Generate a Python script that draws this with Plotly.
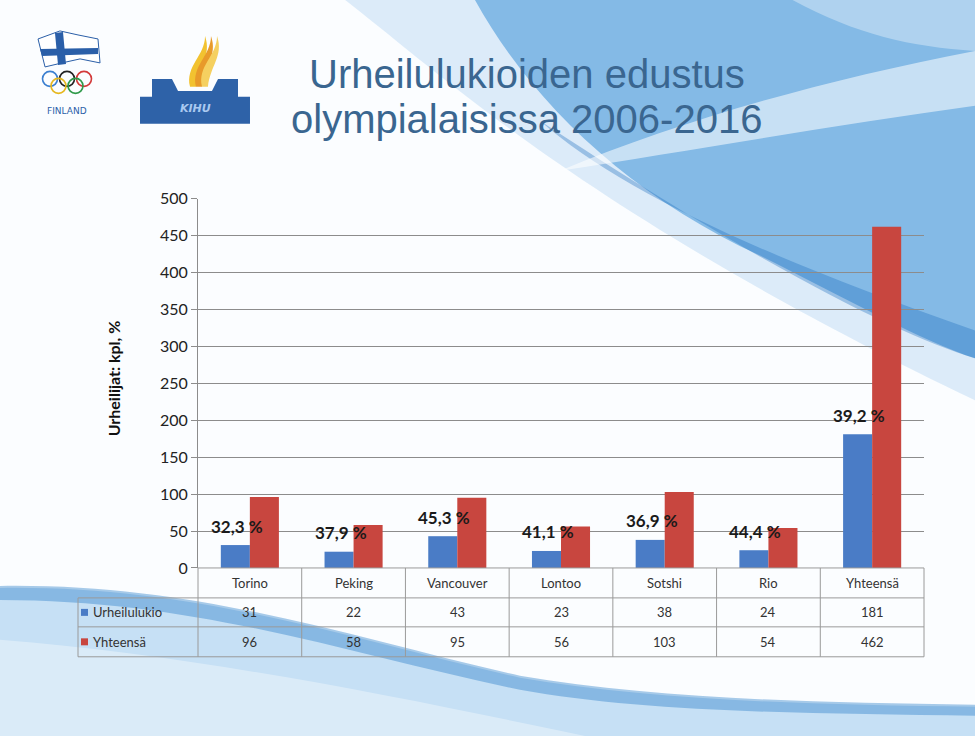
import plotly.graph_objects as go

# ---------------- data ----------------
categories = ["Torino", "Peking", "Vancouver", "Lontoo", "Sotshi", "Rio", "Yhteensä"]
urheilulukio = [31, 22, 43, 23, 38, 24, 181]
yhteensa = [96, 58, 95, 56, 103, 54, 462]
pct_labels = ["32,3 %", "37,9 %", "45,3 %", "41,1 %", "36,9 %", "44,4 %", "39,2 %"]
series_names = ["Urheilulukio", "Yhteensä"]
y_ticks = [0, 50, 100, 150, 200, 250, 300, 350, 400, 450, 500]
title_lines = ["Urheilulukioiden edustus", "olympialaisissa 2006-2016"]

W, H = 975, 736
BLUE = "#4a7cc6"
RED = "#c8463f"
FONT = "Lato"

# vertical calibration of the photographed page (image_y = VA + VB * page_y)
VA, VB = 9.0, 0.976


def px(x):
    return x / W


def py(y):
    return 1 - ((y - VA) / VB) / H


def path(points, close=True):
    s = "M " + " L ".join(f"{px(x):.4f},{py(y):.4f}" for x, y in points)
    return s + (" Z" if close else "")


def cpath(cmds):
    out = []
    for c, pts in cmds:
        out.append(c + " " + " ".join(f"{px(x):.4f},{py(y):.4f}" for x, y in pts))
    return " ".join(out) + " Z"


def note(x, y, text, font, **kw):
    d = dict(x=px(x), y=py(y), xref="paper", yref="paper", text=text, showarrow=False,
             xanchor="center", yanchor="middle", font=font)
    d.update(kw)
    return d


def bg(p, color):
    return dict(type="path", xref="paper", yref="paper", layer="below", path=p,
                fillcolor=color, line=dict(width=0))


# plot area in pixels (reference image coordinates)
X0, X1 = 198, 924
Y0, Y1 = 568, 198

fig = go.Figure()
fig.add_trace(go.Bar(x=categories, y=urheilulukio, name=series_names[0],
                     marker=dict(color=BLUE, line=dict(width=0))))
fig.add_trace(go.Bar(x=categories, y=yhteensa, name=series_names[1],
                     marker=dict(color=RED, line=dict(width=0))))

shapes = []
annotations = []

# ---------- background ----------
shapes.append(dict(type="rect", xref="paper", yref="paper", layer="below",
                   x0=0, x1=1, y0=-0.1, y1=1.1, fillcolor="#fbfdff", line=dict(width=0)))
# pale outer wash of the top swoosh
shapes.append(bg(cpath([("M", [(320, -20)]),
                        ("C", [(430, 60), (560, 200), (975, 400)]),
                        ("L", [(975, -20)])]), "rgba(150,195,235,0.30)"))
# main blue band
shapes.append(bg(cpath([("M", [(465, -20)]),
                        ("C", [(520, 90), (620, 190), (760, 255)]),
                        ("C", [(850, 300), (920, 340), (975, 358)]),
                        ("L", [(975, -20)])]), "rgba(60,145,215,0.55)"))
# darker lower edge of band
shapes.append(bg(cpath([("M", [(540, 120)]),
                        ("C", [(620, 190), (760, 255), (975, 330)]),
                        ("L", [(975, 358)]),
                        ("C", [(900, 335), (760, 265), (540, 120)])]), "rgba(30,110,190,0.35)"))
# white streak
shapes.append(bg(cpath([("M", [(560, 170)]),
                        ("C", [(680, 120), (820, 80), (975, 50)]),
                        ("L", [(975, 105)]),
                        ("C", [(830, 125), (690, 150), (560, 170)])]), "rgba(255,255,255,0.55)"))
# light top-right corner
shapes.append(bg(cpath([("M", [(760, -20)]),
                        ("C", [(840, 30), (900, 45), (975, 50)]),
                        ("L", [(975, -20)])]), "rgba(255,255,255,0.35)"))
# bottom swoosh
shapes.append(bg(cpath([("M", [(0, 588)]),
                        ("C", [(200, 585), (350, 640), (520, 678)]),
                        ("C", [(650, 700), (800, 705), (975, 707)]),
                        ("L", [(975, 760)]), ("L", [(0, 760)])]), "rgba(120,180,230,0.40)"))
shapes.append(bg(cpath([("M", [(0, 586)]),
                        ("C", [(200, 583), (350, 638), (520, 676)]),
                        ("C", [(650, 698), (800, 703), (975, 705)]),
                        ("L", [(975, 716)]),
                        ("C", [(800, 714), (640, 712), (520, 690)]),
                        ("C", [(350, 655), (200, 600), (0, 600)])]), "rgba(40,125,200,0.40)"))
shapes.append(bg(cpath([("M", [(0, 640)]),
                        ("C", [(250, 660), (500, 720), (700, 760)]),
                        ("L", [(0, 760)])]), "rgba(255,255,255,0.35)"))

# ---------- Finland Olympic logo ----------
shapes.append(dict(type="path", xref="paper", yref="paper",
                   path=path([(38, 38), (60, 30), (78, 34), (98, 38), (100, 62), (80, 58), (62, 62), (45, 66)]),
                   fillcolor="white", line=dict(color="#2b5fa8", width=1)))
shapes.append(dict(type="path", xref="paper", yref="paper",
                   path=path([(55, 32), (63, 31), (66, 63), (58, 64)]),
                   fillcolor="#2b5fa8", line=dict(width=0)))
shapes.append(dict(type="path", xref="paper", yref="paper",
                   path=path([(40, 48), (98, 47), (98, 53), (42, 55)]),
                   fillcolor="#2b5fa8", line=dict(width=0)))
rings = [(50, 78, "#3b7fd0"), (67, 78, "#222222"), (84, 78, "#d33a3a"),
         (58.5, 85, "#e6b820"), (75.5, 85, "#2f9a4a")]
for cx, cy, col in rings:
    shapes.append(dict(type="circle", xref="paper", yref="paper",
                       x0=px(cx - 7.5), x1=px(cx + 7.5), y0=py(cy + 7.5), y1=py(cy - 7.5),
                       line=dict(color=col, width=1.6)))
annotations.append(note(67, 110, "FINLAND", dict(family="DejaVu Sans", size=9, color="#2b5fa8")))

# ---------- KIHU logo ----------
shapes.append(dict(type="path", xref="paper", yref="paper",
                   path=path([(152, 78), (172, 78), (178, 90), (212, 90), (218, 78), (238, 78),
                              (238, 96), (250, 96), (250, 123), (140, 123), (140, 96), (152, 96)]),
                   fillcolor="#2e62a8", line=dict(width=0)))
for dx, col in [(0, "#f2c230"), (6, "#e89a2a"), (12, "#f5d060")]:
    shapes.append(dict(type="path", xref="paper", yref="paper",
                       path=cpath([("M", [(190 + dx, 86)]),
                                   ("C", [(185 + dx, 65), (205 + dx, 55), (205 + dx, 35)]),
                                   ("C", [(212 + dx, 55), (198 + dx, 65), (196 + dx, 86)])]),
                       fillcolor=col, line=dict(width=0)))
annotations.append(note(195, 108, "<i><b>KIHU</b></i>", dict(family="DejaVu Sans", size=11, color="#a9c9f0")))

# ---------- title ----------
tfont_title = dict(family="Liberation Sans", size=40, color="#3a6690")
annotations.append(note(527, 73, title_lines[0], tfont_title))
annotations.append(note(526, 118, title_lines[1], tfont_title))

# ---------- y-axis title ----------
annotations.append(note(113, 378, "<b>Urheilijat: kpl, %</b>",
                        dict(family=FONT, size=16, color="#111111"), textangle=-90))

# ---------- percentage labels ----------
for cat, v, lab in zip(categories, urheilulukio, pct_labels):
    annotations.append(dict(x=cat, y=v, xref="x", yref="y", text=f"<b>{lab}</b>",
                            showarrow=False, xshift=-13, yshift=19, xanchor="center", yanchor="middle",
                            font=dict(family=FONT, size=17, color="#1a1a1a")))

# ---------- data table ----------
GRID = "#9a9a9a"
rows_y = [568, 598, 627, 657]
n = len(categories)
colw = (X1 - X0) / n
LEFT = 78
shapes.append(dict(type="line", xref="paper", yref="paper", x0=px(X0), x1=px(X1),
                   y0=py(rows_y[0]), y1=py(rows_y[0]), line=dict(color=GRID, width=1)))
for yy in rows_y[1:]:
    shapes.append(dict(type="line", xref="paper", yref="paper", x0=px(LEFT), x1=px(X1),
                       y0=py(yy), y1=py(yy), line=dict(color=GRID, width=1)))
shapes.append(dict(type="line", xref="paper", yref="paper", x0=px(LEFT), x1=px(LEFT),
                   y0=py(rows_y[1]), y1=py(rows_y[3]), line=dict(color=GRID, width=1)))
for i in range(n + 1):
    xx = X0 + i * colw
    shapes.append(dict(type="line", xref="paper", yref="paper", x0=px(xx), x1=px(xx),
                       y0=py(rows_y[0]), y1=py(rows_y[3]), line=dict(color=GRID, width=1)))

tfont = dict(family=FONT, size=13, color="#333333")
for i, cat in enumerate(categories):
    cx = X0 + (i + 0.5) * colw
    annotations.append(note(cx, (rows_y[0] + rows_y[1]) / 2, cat, tfont))
    annotations.append(note(cx, (rows_y[1] + rows_y[2]) / 2, str(urheilulukio[i]), tfont))
    annotations.append(note(cx, (rows_y[2] + rows_y[3]) / 2, str(yhteensa[i]), tfont))
for r, (name, col) in enumerate(zip(series_names, [BLUE, RED])):
    yc = (rows_y[1 + r] + rows_y[2 + r]) / 2
    shapes.append(dict(type="rect", xref="paper", yref="paper", x0=px(81), x1=px(88),
                       y0=py(yc + 3.5), y1=py(yc - 3.5), fillcolor=col, line=dict(width=0)))
    annotations.append(note(91, yc, name, tfont, xanchor="left"))

fig.update_layout(
    width=W, height=H,
    margin=dict(l=0, r=0, t=0, b=0),
    paper_bgcolor="#fbfdff",
    plot_bgcolor="rgba(0,0,0,0)",
    barmode="group", bargap=0.44, bargroupgap=0,
    showlegend=False,
    shapes=shapes, annotations=annotations,
    xaxis=dict(domain=[px(X0), px(X1)], range=[-0.5, n - 0.5], showticklabels=False,
               showgrid=False, zeroline=False, showline=False, ticks=""),
    yaxis=dict(domain=[py(Y0), py(Y1)], range=[0, 500], tickvals=y_ticks,
               showgrid=True, gridcolor="#8c8c8c", gridwidth=1, zeroline=False,
               showline=True, linecolor="#8c8c8c", linewidth=1,
               ticks="outside", ticklen=6, tickcolor="#8c8c8c",
               tickfont=dict(family=FONT, size=16, color="#222222")),
)

post = ("var d=document.getElementById('{plot_id}');"
        "d.style.position='fixed';d.style.top='0px';d.style.left='0px';"
        "document.body.style.margin='0';document.body.style.overflow='hidden';"
        "document.documentElement.style.overflow='hidden';")
fig.write_html("out.html", config={"responsive": False, "displayModeBar": False},
               post_script=post)
